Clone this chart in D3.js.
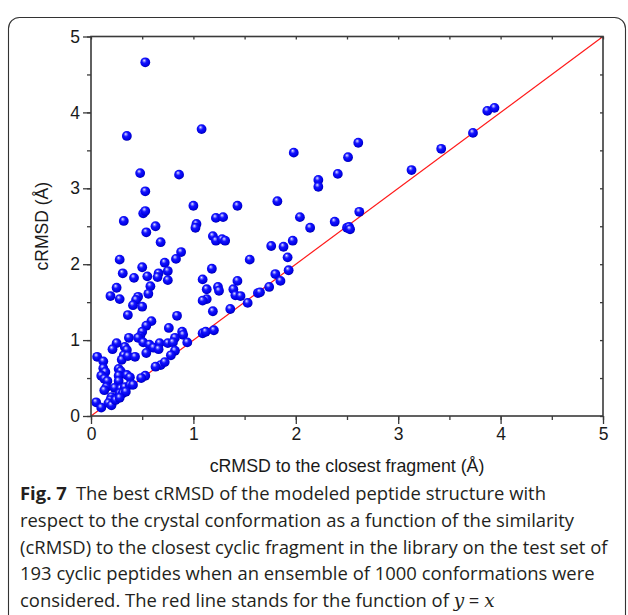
<!DOCTYPE html>
<html><head><meta charset="utf-8">
<script src="https://cdn.jsdelivr.net/npm/d3@7"></script>
<style>body{margin:0;background:#fff;} svg{display:block;}</style>
</head><body>
<svg id="c" width="628" height="615"></svg>
<script>
// cRMSD to the closest fragment (x) vs best cRMSD (y)
const xValues = [0.53,0.35,1.08,0.48,0.86,1.98,0.53,0.51,0.53,1.00,0.32,1.03,1.02,0.63,0.54,0.68,0.88,0.83,0.72,0.28,0.50,0.75,0.66,0.65,0.31,0.42,0.55,0.75,0.58,0.25,0.56,0.19,0.28,0.46,0.44,0.41,0.50,
2.22,2.22,2.41,2.51,2.61,3.13,3.42,3.73,3.87,3.94,1.82,1.43,1.22,1.29,2.04,2.14,2.38,2.50,2.52,2.53,2.62,1.19,1.22,1.28,1.31,1.76,1.88,1.97,1.92,1.55,1.18,1.09,1.43,1.80,1.93,1.85,1.13,1.24,1.25,1.39,1.41,1.46,1.13,1.09,1.19,1.36,1.53,1.63,1.65,1.74,1.09,1.12,1.20,
0.36,0.59,0.54,0.84,0.50,0.48,0.76,0.89,0.90,0.82,0.94,0.37,0.46,0.51,0.25,0.21,0.33,0.35,0.57,0.61,0.67,0.66,0.75,0.80,0.82,0.78,0.54,0.32,0.30,0.36,0.43,0.06,0.12,0.12,0.14,0.27,0.29,0.68,0.63,0.72,0.10,0.13,0.16,0.27,0.27,0.35,0.38,0.53,0.49,0.15,0.13,0.23,0.29,0.33,0.38,0.41,0.20,0.23,0.19,0.28,0.31,0.34,0.05,0.10,0.17,0.20,0.24,0.28];
const yValues = [4.66,3.69,3.78,3.20,3.18,3.47,2.96,2.67,2.70,2.77,2.57,2.53,2.48,2.50,2.42,2.29,2.16,2.07,2.02,2.06,1.96,1.91,1.88,1.83,1.88,1.82,1.84,1.79,1.71,1.69,1.61,1.58,1.54,1.57,1.53,1.46,1.44,
3.11,3.02,3.19,3.41,3.60,3.24,3.52,3.73,4.02,4.06,2.83,2.77,2.61,2.62,2.62,2.48,2.56,2.48,2.49,2.46,2.69,2.37,2.31,2.33,2.31,2.24,2.23,2.31,2.09,2.06,1.94,1.80,1.78,1.87,1.92,1.78,1.67,1.70,1.65,1.67,1.59,1.58,1.54,1.52,1.38,1.41,1.49,1.62,1.63,1.70,1.09,1.11,1.13,
1.33,1.25,1.19,1.32,1.11,1.05,1.16,1.11,1.07,1.03,0.97,1.03,1.03,0.97,0.96,0.88,0.91,0.87,0.94,0.90,0.96,0.88,0.96,0.97,0.86,0.80,0.83,0.80,0.74,0.79,0.78,0.78,0.72,0.63,0.58,0.62,0.59,0.67,0.65,0.71,0.53,0.49,0.46,0.53,0.46,0.54,0.51,0.53,0.50,0.38,0.34,0.37,0.36,0.38,0.41,0.41,0.25,0.22,0.21,0.30,0.30,0.32,0.18,0.11,0.17,0.14,0.21,0.24];
const xTicks = [0,1,2,3,4,5];
const yTicks = [0,1,2,3,4,5];
const minorTicks = [0,0.5,1,1.5,2,2.5,3,3.5,4,4.5,5];
const refLine = [0,5]; // y = x
const xTitle = "cRMSD to the closest fragment (Å)";
const yTitle = "cRMSD (Å)";
const captionBold = "Fig. 7";
const captionLines = [
  "The best cRMSD of the modeled peptide structure with",
  "respect to the crystal conformation as a function of the similarity",
  "(cRMSD) to the closest cyclic fragment in the library on the test set of",
  "193 cyclic peptides when an ensemble of 1000 conformations were",
  "considered. The red line stands for the function of "
];

const svg = d3.select("#c");
const L = 91, T = 36.5, R = 603, B = 416;
const x = d3.scaleLinear().domain([0,5]).range([L,R]);
const y = d3.scaleLinear().domain([0,5]).range([B,T]);
const axisCol = "#3a3a3a", textCol = "#1a1a1a";
const sansFont = "Liberation Sans, Arial, sans-serif";

// figure frame
svg.append("rect").attr("x",8.5).attr("y",17.5).attr("width",617).attr("height",720)
  .attr("rx",11).attr("fill","none").attr("stroke","#333").attr("stroke-width",1.1);

// gradient for spheres
const defs = svg.append("defs");
const g = defs.append("radialGradient").attr("id","ball").attr("cx","0.45").attr("cy","0.42").attr("r","0.6")
  .attr("fx","0.38").attr("fy","0.3");
g.append("stop").attr("offset","0").attr("stop-color","#f4f4ff");
g.append("stop").attr("offset","0.16").attr("stop-color","#8a8aff");
g.append("stop").attr("offset","0.4").attr("stop-color","#1414ff");
g.append("stop").attr("offset","0.8").attr("stop-color","#0000e6");
g.append("stop").attr("offset","1").attr("stop-color","#0000a0");

// reference line y = x
svg.append("line").attr("x1",x(refLine[0])).attr("y1",y(refLine[0])).attr("x2",x(refLine[1])).attr("y2",y(refLine[1]))
  .attr("stroke","#ff1a1a").attr("stroke-width",1.2);

// points
svg.append("g").selectAll("circle").data(xValues.map((v,i)=>[v,yValues[i]])).join("circle")
  .attr("cx",d=>x(d[0])).attr("cy",d=>y(d[1])).attr("r",4.9).attr("fill","url(#ball)");

// axes
function styleAxis(sel){ sel.selectAll(".domain").remove(); sel.selectAll("line").attr("stroke",axisCol).attr("stroke-width",1.3); }
const fmt = d3.format("d");
const bx = svg.append("g").attr("transform",`translate(0,${B})`)
  .call(d3.axisBottom(x).tickValues(minorTicks).tickSize(4).tickFormat(""));
styleAxis(bx);
const bxM = svg.append("g").attr("transform",`translate(0,${B})`)
  .call(d3.axisBottom(x).tickValues(xTicks).tickSize(8).tickPadding(4).tickFormat(fmt));
styleAxis(bxM);
bxM.selectAll("text").attr("font-family",sansFont).attr("font-size",17.5).attr("fill",textCol);

const ly = svg.append("g").attr("transform",`translate(${L},0)`)
  .call(d3.axisLeft(y).tickValues(minorTicks).tickSize(4).tickFormat(""));
styleAxis(ly);
const lyM = svg.append("g").attr("transform",`translate(${L},0)`)
  .call(d3.axisLeft(y).tickValues(yTicks).tickSize(8).tickPadding(3).tickFormat(fmt));
styleAxis(lyM);
lyM.selectAll("text").attr("font-family",sansFont).attr("font-size",17.5).attr("fill",textCol);

const tx = svg.append("g").attr("transform",`translate(0,${T})`)
  .call(d3.axisBottom(x).tickValues(minorTicks).tickSize(3).tickFormat(""));
styleAxis(tx);
const ry = svg.append("g").attr("transform",`translate(${R},0)`)
  .call(d3.axisLeft(y).tickValues(minorTicks).tickSize(3).tickFormat(""));
styleAxis(ry);

// frame of plot
svg.append("rect").attr("x",L).attr("y",T).attr("width",R-L).attr("height",B-T)
  .attr("fill","none").attr("stroke",axisCol).attr("stroke-width",1.6);

// titles
svg.append("text").attr("x",(L+R)/2).attr("y",472).attr("text-anchor","middle")
  .attr("font-family",sansFont).attr("font-size",17.8).attr("fill",textCol).text(xTitle);
svg.append("text").attr("transform",`translate(48,${(T+B)/2}) rotate(-90)`).attr("text-anchor","middle")
  .attr("font-family",sansFont).attr("font-size",17.5).attr("fill",textCol).text(yTitle);

// caption
const capFont = "Open Sans, Noto Sans, sans-serif";
const cap = svg.append("g").attr("font-family",capFont).attr("fill","#231f20");
const probe = cap.append("text").attr("font-size",20).text(captionLines[2]);
const w = probe.node().getComputedTextLength();
probe.remove();
const fs = 20 * 588 / w;
const baseY = 500, lh = 26.8;
captionLines.forEach((ln,i)=>{
  const t = cap.append("text").attr("x",20).attr("y",baseY+i*lh).attr("font-size",fs);
  if(i===0){
    t.append("tspan").attr("font-weight","bold").text(captionBold);
    t.append("tspan").text("\u2002"+ln);
  } else if(i===4){
    t.append("tspan").text(ln);
    t.append("tspan").attr("font-style","italic").attr("font-family","DejaVu Serif, Liberation Serif, serif").text("y");
    t.append("tspan").text(" = ");
    t.append("tspan").attr("font-style","italic").attr("font-family","DejaVu Serif, Liberation Serif, serif").text("x");
  } else t.text(ln);
});
</script>
</body></html>
